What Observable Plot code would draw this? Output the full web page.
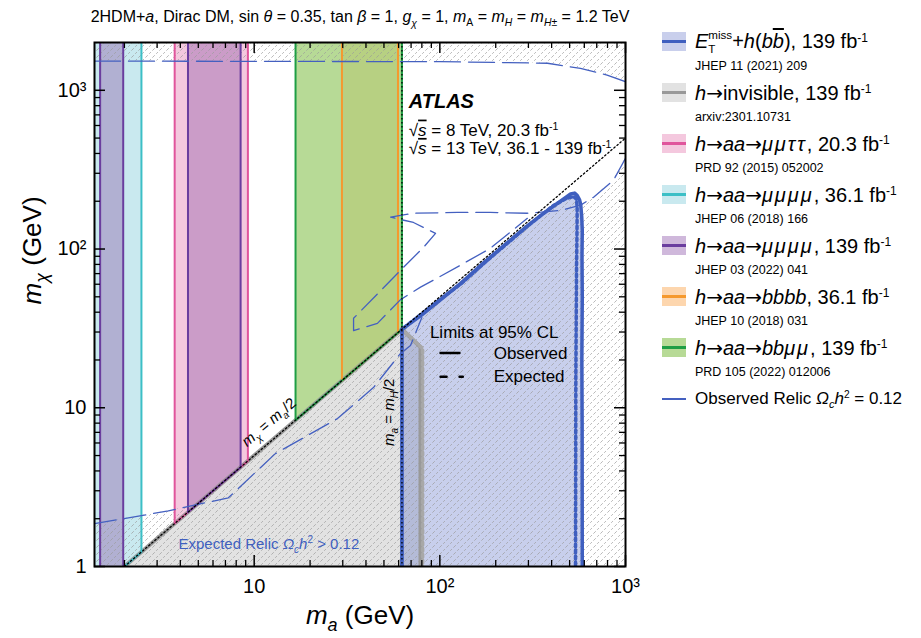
<!DOCTYPE html>
<html><head><meta charset="utf-8">
<script src="https://cdn.jsdelivr.net/npm/d3@7"></script>
<script src="https://cdn.jsdelivr.net/npm/@observablehq/plot@0.6"></script>
<style>
html,body{margin:0;padding:0;background:#fff;}
body{font-family:"Liberation Sans",Arial,sans-serif;color:#000;}
#wrap{position:relative;width:921px;height:638px;overflow:hidden;}
#chart{position:absolute;left:0;top:0;}
#title{position:absolute;left:0;top:7px;width:720px;text-align:center;font-size:16px;white-space:nowrap;line-height:20px;}
.row{position:absolute;left:662px;display:flex;align-items:center;white-space:nowrap;height:24px;}
.sw{position:relative;width:24px;height:19px;margin-right:9px;flex:none;}
.sw .ln{position:absolute;left:0;right:0;top:8px;height:3px;}
.lab{font-size:20px;line-height:24px;}
.ref{position:absolute;left:695px;font-size:12.5px;white-space:nowrap;line-height:14px;}
sup{font-size:0.6em;vertical-align:0.55em;line-height:0;}
sub{font-size:0.65em;vertical-align:-0.35em;line-height:0;}
.ss{display:inline-block;font-size:0.58em;line-height:1.15;vertical-align:-4px;}
.ss span{display:block;}
.gr{letter-spacing:2px;}
.ar{font-family:"DejaVu Sans",sans-serif;font-style:normal;}
</style></head>
<body><div id="wrap"><div id="chart"></div><div id="title"></div><div id="legend"></div></div>
<script>
// ---------- axes ----------
const xDomain = [1.38, 1000];
const yDomain = [1, 2000];
const xMajor = [10, 100, 1000];
const xMajorLabels = ["10", "10²", "10³"];
const xMinor = [2,3,4,5,6,7,8,9,20,30,40,50,60,70,80,90,200,300,400,500,600,700,800,900];
const yMajor = [1, 10, 100, 1000];
const yMajorLabels = ["1", "10", "10²", "10³"];
const yMinor = [2,3,4,5,6,7,8,9,20,30,40,50,60,70,80,90,200,300,400,500,600,700,800,900];

// ---------- excluded m_a intervals (GeV), bounded below by m_chi = m_a/2 ----------
const cyanBands = [[1.0, 2.47]];          // h->aa->mumumumu 36.1
const purpleBands = [[1.48, 1.97], [4.4, 8.45]]; // h->aa->mumumumu 139
const pinkBands = [[3.73, 9.25]];         // h->aa->mumutautau 20.3
const orangeBands = [[29.7, 59.5]];       // h->aa->bbbb 36.1
const greenBands = [[16.7, 62.5]];        // h->aa->bbmumu 139
const mHhalf = 62.5;

// ---------- E_T^miss + h(bb) contour ----------
const blueObsX = [62.5, 62.5, 80, 100, 129, 160, 187, 240, 296, 350, 409, 460, 506, 532, 550, 565, 574, 581, 585, 583, 585, 582, 584, 585];
const blueObsY = [1, 31.25, 38.5, 47.5, 60.5, 76, 89, 114, 140, 163, 186, 205, 222, 225, 217, 205, 190, 160, 131, 90, 50, 20, 8, 1];
const blueExpX = [62.5, 62.5, 100, 129, 187, 296, 409, 480, 525, 545, 549, 548, 545, 543, 540, 538];
const blueExpY = [1, 31.25, 48, 60, 88, 139, 188, 208, 214, 206, 180, 130, 80, 40, 15, 1];

// ---------- h -> invisible ----------
const grayObsX = [2, 62.5, 78.7, 78.7];
const grayObsY = [1, 31.25, 24.1, 1];
const grayExpX = [62.5, 80.8, 80.8];
const grayExpY = [31.25, 23.6, 1];

// ---------- observed relic Omega h^2 = 0.12 ----------
const relicTopX = [1.38, 100, 380, 572, 796, 1000];
const relicTopY = [1527, 1515, 1480, 1374, 1247, 1132];
const relicLowX = [1.38, 3.45, 7.26, 13, 28.1, 43.9, 61.4, 69.5, 80];
const relicLowY = [1.86, 2.24, 2.71, 5.14, 8.55, 13.4, 22, 24.7, 37];
const relicMidX = [1000, 861, 673, 573, 450, 296, 187, 124.5, 72, 54.3, 72.1, 94.8, 81.7, 61.4, 34.3, 34.3, 46.1, 61.4, 78.7, 129, 187, 296];
const relicMidY = [373, 271, 212, 189, 175, 168, 170, 170, 168, 158.6, 147, 125.6, 102.5, 73.4, 36.6, 30.6, 34, 48, 57.5, 79, 101, 156];

// ---------- expected relic > 0.12 (hatched) ----------
const hatchLowX = [1.38, 3.45, 4.9, 62.5, 80, 100, 129, 160, 187, 240, 296, 350, 409, 460, 506, 532, 550, 573, 673, 861, 1000];
const hatchLowY = [1.86, 2.24, 2.45, 31.25, 38.5, 47.5, 60.5, 76, 89, 114, 140, 163, 186, 205, 222, 225, 217, 189, 212, 271, 373];

// ---------- legend ----------
const AR = '<span class="ar">→</span>';
const legendLabels = [
 '<i>E</i><span class="ss"><span>miss</span><span>T</span></span>+<i>h</i>(<i>b</i><i style="text-decoration:overline">b</i>), 139 fb<sup>-1</sup>',
 `<i>h</i>${AR}invisible, 139 fb<sup>-1</sup>`,
 `<i>h</i>${AR}<i>aa</i>${AR}<i class="gr">μμττ</i>, 20.3 fb<sup>-1</sup>`,
 `<i>h</i>${AR}<i>aa</i>${AR}<i class="gr">μμμμ</i>, 36.1 fb<sup>-1</sup>`,
 `<i>h</i>${AR}<i>aa</i>${AR}<i class="gr">μμμμ</i>, 139 fb<sup>-1</sup>`,
 `<i>h</i>${AR}<i>aa</i>${AR}<i>bbbb</i>, 36.1 fb<sup>-1</sup>`,
 `<i>h</i>${AR}<i>aa</i>${AR}<i>bb</i><i class="gr">μμ</i>, 139 fb<sup>-1</sup>`,
 'Observed Relic <i>Ω</i><sub><i>c</i></sub><i>h</i><sup>2</sup> = 0.12'
];
const legendRefs = ["JHEP 11 (2021) 209", "arxiv:2301.10731", "PRD 92 (2015) 052002", "JHEP 06 (2018) 166", "JHEP 03 (2022) 041", "JHEP 10 (2018) 031", "PRD 105 (2022) 012006", ""];

const col = {
  blueLine: "#3f5fbf", blueFill: "#4a5fc1", blueSw: "#c9cfec",
  grayLine: "#999999", grayFill: "#e2e2e2",
  pinkLine: "#e0559c", pinkFill: "#f4c8de",
  cyanLine: "#3cbfc6", cyanFill: "#c9e9ef",
  purpleLine: "#6a3d9e", purpleFill: "#8e5aa8", purpleSw: "#cfb8db",
  orangeLine: "#f5992e", orangeFill: "#fdd6ae",
  greenLine: "#1f9e45", greenFill: "#9fce73", greenSw: "#b7da96",
  relic: "#4460c0"
};
const legendFill = [col.blueSw, col.grayFill, col.pinkFill, col.cyanFill, col.purpleSw, col.orangeFill, col.greenSw, null];
const legendLine = [col.blueLine, col.grayLine, col.pinkLine, col.cyanLine, col.purpleLine, col.orangeLine, col.greenLine, col.relic];

// ---------- helpers ----------
const zip = (xs, ys) => xs.map((x, i) => ({x, y: ys[i]}));
const yTop = yDomain[1];
const bandArea = b => b.map(x => ({x, lo: x / 2, hi: yTop}));
const bandEdge = b => [{x: b[0], y: yTop}, {x: b[0], y: b[0] / 2}, {x: b[1], y: b[1] / 2}, {x: b[1], y: yTop}];
function bandMarks(bands, fill, fillOpacity) {
  return bands.map(b => Plot.areaY(bandArea(b), {x: "x", y1: "lo", y2: "hi", fill, fillOpacity, clip: true}));
}
function edgeMarks(bands, stroke) {
  return bands.map(b => Plot.line(bandEdge(b), {x: "x", y: "y", stroke, strokeWidth: 2, clip: true}));
}

const W = 640, H = 638, mL = 94, mR = 15, mT = 42, mB = 72;
const fW = W - mL - mR, fH = H - mT - mB;

const refDiag = [{x: 2, y: 1}, {x: 1000, y: 500}];

const notes = {
  atlas: [{x: 68, y: 847, t: "ATLAS"}],
  energy: [{x: 68, y: 561, t: "√s = 8 TeV, 20.3 fb-1"}, {x: 68, y: 430, t: "√s = 13 TeV, 36.1 - 139 fb-1"}],
  limits: [{x: 88.4, y: 29.9, t: "Limits at 95% CL"}, {x: 195, y: 22.1, t: "Observed"}, {x: 195, y: 15.7, t: "Expected"}],
  diag: [{x: 12, y: 8.1, t: "m_chi = m_a/2"}],
  vert: [{x: 53.2, y: 9.37, t: "m_a = m_H/2"}],
  relic: [{x: 12, y: 1.38, t: "Expected Relic Omega_c h2 > 0.12"}]
};
const keySolid = [{x: 100.9, y: 22.1}, {x: 127.5, y: 22.1}];
const keyDash = [{x: 100.9, y: 15.7}, {x: 133, y: 15.7}];

const it = s => `<tspan font-style="italic">${s}</tspan>`;
const rich = {
  "√s = 8 TeV, 20.3 fb-1": `√<tspan font-style="italic" text-decoration="overline">s</tspan> = 8 TeV, 20.3 fb<tspan dy="-6" font-size="10.5">-1</tspan>`,
  "√s = 13 TeV, 36.1 - 139 fb-1": `√<tspan font-style="italic" text-decoration="overline">s</tspan> = 13 TeV, 36.1 - 139 fb<tspan dy="-6" font-size="10.5">-1</tspan>`,
  "m_chi = m_a/2": `${it("m")}<tspan dy="4" font-size="10" font-style="italic">χ</tspan><tspan dy="-4"> = </tspan>${it("m")}<tspan dy="4" font-size="10" font-style="italic">a</tspan><tspan dy="-4">/2</tspan>`,
  "m_a = m_H/2": `${it("m")}<tspan dy="4" font-size="10" font-style="italic">a</tspan><tspan dy="-4"> = </tspan>${it("m")}<tspan dy="4" font-size="10" font-style="italic">H</tspan><tspan dy="-4">/2</tspan>`,
  "Expected Relic Omega_c h2 > 0.12": `Expected Relic ${it("Ω")}<tspan dy="4" font-size="10" font-style="italic">c</tspan><tspan dy="-4" font-style="italic">h</tspan><tspan dy="-6" font-size="10">2</tspan><tspan dy="6"> &gt; 0.12</tspan>`,
  "m_a (GeV)": `${it("m")}<tspan dy="7" font-size="18" font-style="italic">a</tspan><tspan dy="-7"> (GeV)</tspan>`,
  "m_chi (GeV)": `${it("m")}<tspan dy="7" font-size="18" font-style="italic">χ</tspan><tspan dy="-7"> (GeV)</tspan>`
};

const chart = Plot.plot({
  width: W, height: H, marginLeft: mL, marginRight: mR, marginTop: mT, marginBottom: mB,
  x: {type: "log", domain: xDomain},
  y: {type: "log", domain: yDomain},
  style: {fontFamily: '"Liberation Sans", Arial, sans-serif', background: "white", overflow: "visible"},
  marks: [
    ...bandMarks(cyanBands, col.cyanFill),
    ...bandMarks(pinkBands, col.pinkFill),
    ...bandMarks(orangeBands, col.orangeFill),
    ...bandMarks(greenBands, col.greenFill, 0.75),
    ...bandMarks(purpleBands, col.purpleFill, 0.4),
    Plot.areaY(zip(grayObsX.slice(0, 3), grayObsY.slice(0, 3)), {x: "x", y1: 1, y2: "y", fill: col.grayFill, clip: true}),
    Plot.line(zip(blueObsX, blueObsY), {x: "x", y: "y", fill: col.blueFill, fillOpacity: 0.3, stroke: "none", clip: true}),
    Plot.areaY(zip(hatchLowX, hatchLowY), {x: "x", y1: 1, y2: "y", fill: "url(#hatch)", clip: true}),
    Plot.areaY(zip(relicTopX, relicTopY), {x: "x", y1: "y", y2: yTop, fill: "url(#hatch)", clip: true}),
    Plot.line(zip(grayObsX, grayObsY), {x: "x", y: "y", stroke: col.grayLine, strokeWidth: 4, clip: true}),
    Plot.line(zip(grayExpX, grayExpY), {x: "x", y: "y", stroke: "#a8a8a8", strokeWidth: 3.5, strokeDasharray: "3,3", clip: true}),
    ...edgeMarks(cyanBands, col.cyanLine),
    ...edgeMarks(pinkBands, col.pinkLine),
    ...edgeMarks(orangeBands, col.orangeLine),
    ...edgeMarks(greenBands, col.greenLine),
    ...edgeMarks(purpleBands, col.purpleLine),
    Plot.line(zip(blueObsX, blueObsY), {x: "x", y: "y", stroke: col.blueLine, strokeWidth: 3.5, clip: true}),
    Plot.line(zip(blueExpX, blueExpY), {x: "x", y: "y", stroke: col.blueLine, strokeWidth: 3.5, strokeDasharray: "3,3", clip: true}),
    Plot.line(zip(relicTopX, relicTopY), {x: "x", y: "y", stroke: col.relic, strokeWidth: 1.3, strokeDasharray: "26,8", clip: true}),
    Plot.line(zip(relicLowX, relicLowY), {x: "x", y: "y", stroke: col.relic, strokeWidth: 1.3, strokeDasharray: "22,8", clip: true}),
    Plot.line(zip(relicMidX, relicMidY), {x: "x", y: "y", stroke: col.relic, strokeWidth: 1.3, strokeDasharray: "22,8", clip: true}),
    Plot.line(refDiag, {x: "x", y: "y", stroke: "black", strokeWidth: 1.3, strokeDasharray: "1.5,2.5", clip: true}),
    Plot.ruleX([mHhalf], {stroke: "black", strokeWidth: 1.3, strokeDasharray: "1.5,2.5"}),
    // annotations
    Plot.text(notes.atlas, {x: "x", y: "y", text: "t", textAnchor: "start", fontSize: 20, fontWeight: "bold", fontStyle: "italic"}),
    Plot.text(notes.energy, {x: "x", y: "y", text: "t", textAnchor: "start", fontSize: 17}),
    Plot.text(notes.limits, {x: "x", y: "y", text: "t", textAnchor: "start", fontSize: 17}),
    Plot.line(keySolid, {x: "x", y: "y", stroke: "black", strokeWidth: 2.5}),
    Plot.line(keyDash, {x: "x", y: "y", stroke: "black", strokeWidth: 2.5, strokeDasharray: "6,13"}),
    Plot.text(notes.diag, {x: "x", y: "y", text: "t", rotate: -40.5, fontSize: 15}),
    Plot.text(notes.vert, {x: "x", y: "y", text: "t", rotate: -90, fontSize: 15}),
    Plot.text(notes.relic, {x: "x", y: "y", text: "t", fontSize: 15, fill: col.blueLine}),
    // ticks (inward, all four sides)
    Plot.tickX(xMajor, {x: d => d, insetTop: fH - 11, stroke: "black", strokeWidth: 1.5}),
    Plot.tickX(xMajor, {x: d => d, insetBottom: fH - 11, stroke: "black", strokeWidth: 1.5}),
    Plot.tickX(xMinor, {x: d => d, insetTop: fH - 6, stroke: "black", strokeWidth: 1.3}),
    Plot.tickX(xMinor, {x: d => d, insetBottom: fH - 6, stroke: "black", strokeWidth: 1.3}),
    Plot.tickY(yMajor, {y: d => d, insetRight: fW - 11, stroke: "black", strokeWidth: 1.5}),
    Plot.tickY(yMajor, {y: d => d, insetLeft: fW - 11, stroke: "black", strokeWidth: 1.5}),
    Plot.tickY(yMinor, {y: d => d, insetRight: fW - 6, stroke: "black", strokeWidth: 1.3}),
    Plot.tickY(yMinor, {y: d => d, insetLeft: fW - 6, stroke: "black", strokeWidth: 1.3}),
    Plot.frame({stroke: "black", strokeWidth: 2}),
    Plot.axisX(xMajor, {tickFormat: d => xMajorLabels[xMajor.indexOf(d)], tickSize: 0, tickPadding: 12, fontSize: 20, label: null}),
    Plot.axisY(yMajor, {tickFormat: d => yMajorLabels[yMajor.indexOf(d)], tickSize: 0, tickPadding: 8, fontSize: 20, label: null}),
    Plot.text(["m_a (GeV)"], {frameAnchor: "bottom", dy: 57, fontSize: 26}),
    Plot.text(["m_chi (GeV)"], {frameAnchor: "left", dx: -62, rotate: -90, fontSize: 26})
  ]
});

// hatch pattern
const defs = document.createElementNS("http://www.w3.org/2000/svg", "defs");
defs.innerHTML = `<pattern id="hatch" patternUnits="userSpaceOnUse" width="7" height="7">
  <path d="M-1,8 L8,-1" stroke="#9a9a9a" stroke-width="0.7" stroke-dasharray="2.5,2" fill="none"/></pattern>`;
chart.insertBefore(defs, chart.firstChild);
chart.querySelectorAll("text").forEach(t => {
  const k = t.textContent;
  if (rich[k] !== undefined) t.innerHTML = rich[k];
});
document.getElementById("chart").appendChild(chart);

// title
document.getElementById("title").innerHTML =
  '2HDM+<i>a</i>, Dirac DM, sin <i>θ</i> = 0.35, tan <i>β</i> = 1, <i>g</i><sub style="vertical-align:-0.5em"><i>χ</i></sub> = 1, <i>m</i><sub>A</sub> = <i>m</i><sub><i>H</i></sub> = <i>m</i><sub><i>H</i>±</sub> = 1.2 TeV';

// legend
const lg = document.getElementById("legend");
legendLabels.forEach((lab, i) => {
  const cy = 41.7 + i * 51;
  const row = document.createElement("div");
  row.className = "row";
  row.style.top = (cy - 12) + "px";
  const sw = legendFill[i]
    ? `<span class="sw" style="background:${legendFill[i]}"><span class="ln" style="background:${legendLine[i]}"></span></span>`
    : `<span class="sw"><span class="ln" style="background:${legendLine[i]};height:1.5px;top:9px"></span></span>`;
  row.innerHTML = sw + `<span class="lab" style="${i === 7 ? 'font-size:17px' : ''}">${lab}</span>`;
  lg.appendChild(row);
  if (legendRefs[i]) {
    const r = document.createElement("div");
    r.className = "ref";
    r.style.top = (cy + 24 - 7) + "px";
    r.textContent = legendRefs[i];
    lg.appendChild(r);
  }
});
</script></body></html>
